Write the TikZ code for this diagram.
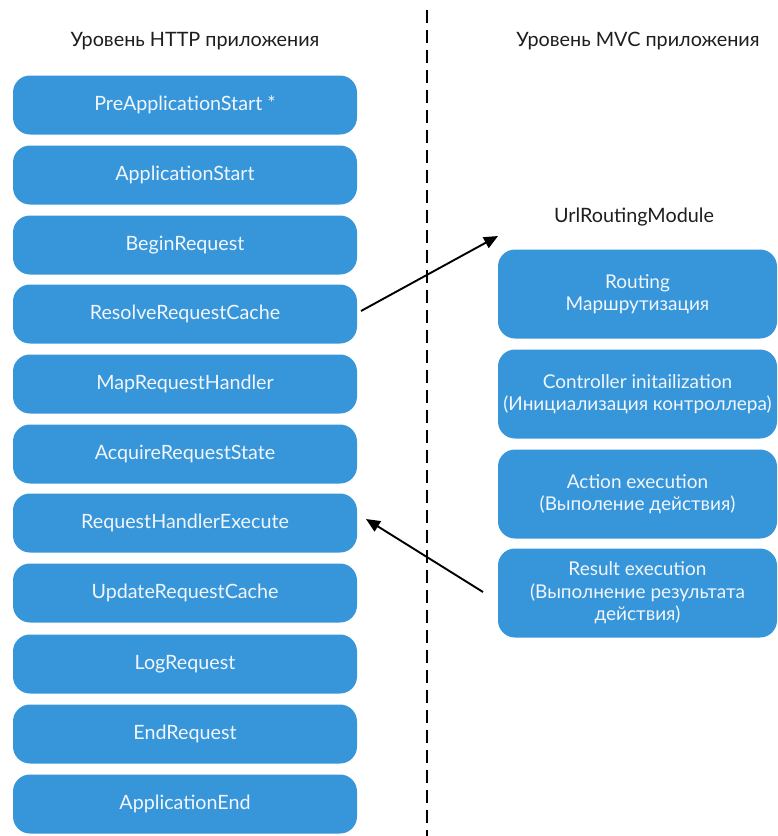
\documentclass[tikz,border=0pt]{standalone}
\usepackage{fontspec}
\setmainfont{Lato}
\usetikzlibrary{arrows.meta}
\definecolor{boxblue}{RGB}{55,150,218}
\definecolor{boxtext}{RGB}{240,246,252}
\definecolor{titletext}{RGB}{30,30,30}
\begin{document}
\begin{tikzpicture}[x=1pt,y=-1pt,
  lbox/.style={fill=boxblue,rounded corners=17pt,minimum width=344pt,minimum height=59pt,
    text=boxtext,font=\fontsize{19.7}{23}\selectfont,inner sep=0pt},
  rbox/.style={fill=boxblue,rounded corners=17pt,minimum width=279pt,minimum height=89pt,
    text=boxtext,font=\fontsize{19}{22.5}\selectfont,align=center,inner sep=0pt},
  ttl/.style={text=titletext,font=\fontsize{19.8}{23}\selectfont},
  conn/.style={line width=1.9pt,-{Triangle[length=14pt,width=12pt]}}]
\useasboundingbox (0,0) rectangle (778,836);
\draw[line width=2.2pt,dash pattern=on 13pt off 7pt] (427,10) coordinate (dtop) -- (427,836) coordinate (dbot);
\node[ttl] (t1) at (195,41) {Уровень HTTP приложения};
\node[ttl] (t2) at (638,41) {Уровень MVC приложения};
\node[ttl] (t3) at (634,217) {UrlRoutingModule};
\node[lbox] (b1) at (185,105) {PreApplicationStart *};
\node[lbox] (b2) at (185,175) {ApplicationStart};
\node[lbox] (b3) at (185,245) {BeginRequest};
\node[lbox] (b4) at (185,314) {ResolveRequestCache};
\node[lbox] (b5) at (185,384) {MapRequestHandler};
\node[lbox] (b6) at (185,454) {AcquireRequestState};
\node[lbox] (b7) at (185,523) {RequestHandlerExecute};
\node[lbox] (b8) at (185,593) {UpdateRequestCache};
\node[lbox] (b9) at (185,664) {LogRequest};
\node[lbox] (b10) at (185,734) {EndRequest};
\node[lbox] (b11) at (185,804) {ApplicationEnd};
\node[rbox] (r1) at (637.5,294) {Routing\\Маршрутизация};
\node[rbox] (r2) at (637.5,394) {Controller initailization\\(Инициализация контроллера)};
\node[rbox] (r3) at (637.5,494) {Action execution\\(Выполение действия)};
\node[rbox] (r4) at (637.5,593) {Result execution\\(Выполнение результата\\действия)};
\coordinate (a1s) at (361,311);
\coordinate (a1e) at (498,236);
\coordinate (a2s) at (483,592);
\coordinate (a2e) at (366,519);
\draw[conn] (a1s) -- (a1e);
\draw[conn] (a2s) -- (a2e);
\end{tikzpicture}
\end{document}
